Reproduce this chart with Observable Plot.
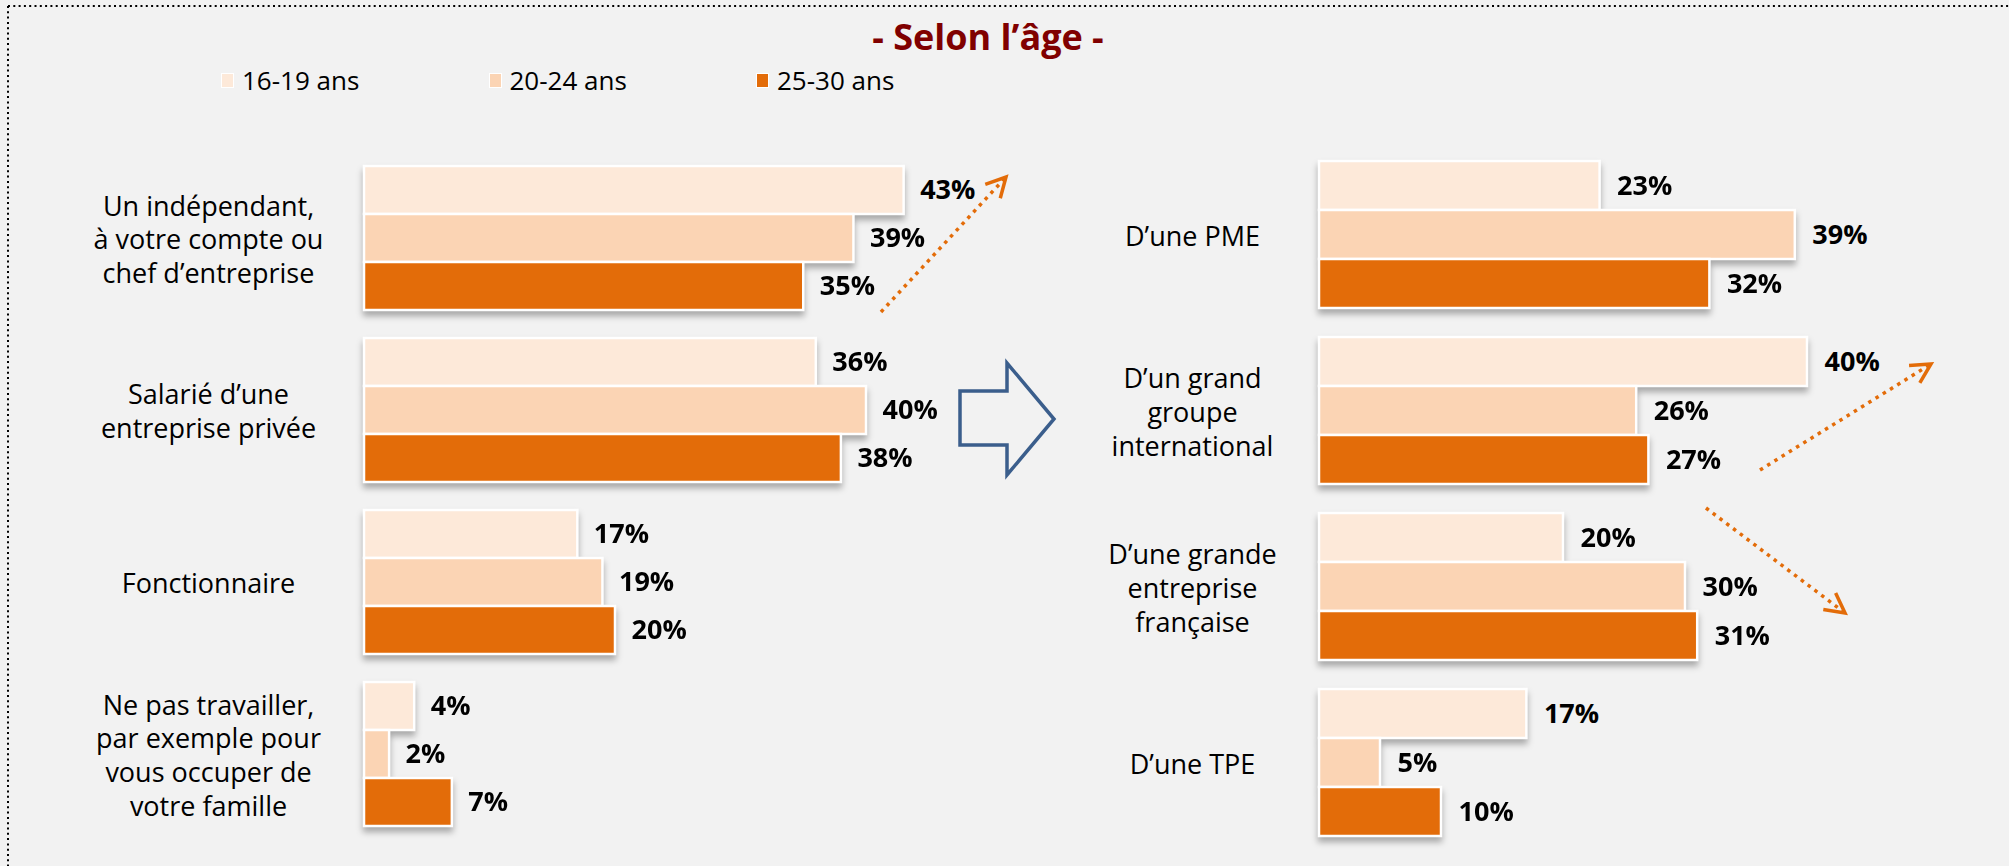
<!DOCTYPE html>
<html><head><meta charset="utf-8">
<script src="https://cdn.jsdelivr.net/npm/d3@7"></script>
<script src="https://cdn.jsdelivr.net/npm/@observablehq/plot@0.6"></script>
<style>
html,body{margin:0;padding:0;background:#F2F2F2;overflow:hidden;width:2009px;height:866px;}
#wrap{position:relative;width:2009px;height:866px;overflow:hidden;background:#F2F2F2;font-family:"Open Sans",sans-serif;}
#title{position:absolute;left:788px;width:400px;top:19px;text-align:center;font-size:36px;line-height:36px;font-weight:700;color:#800000;white-space:nowrap;}
#legend{position:absolute;left:221px;top:67px;display:flex;}
.item{width:267.5px;display:flex;align-items:center;font-size:26px;line-height:26px;color:#000;white-space:nowrap;}
.sw{width:13px;height:15px;box-sizing:border-box;border:1px solid #fff;margin-right:8px;}
.panel{position:absolute;top:0;}
.panel svg{display:block;}
.panel g[aria-label="bar"]{filter:drop-shadow(0px 5px 3px rgba(0,0,0,0.30));}
#deco{position:absolute;left:0;top:0;pointer-events:none;display:block;}
</style></head><body>
<div id="wrap">
  <div id="title"></div>
  <div id="legend"></div>
  <div class="panel" id="left" style="left:0px"></div>
  <div class="panel" id="right" style="left:1000px"></div>
  <svg id="deco" width="2009" height="866"></svg>
</div>
<script>
// ---- data ----
const title = "- Selon l’âge -";
const ages = ["16-19 ans", "20-24 ans", "25-30 ans"];
const ageColors = ["#FDE9D9", "#FBD4B4", "#E36C09"];

const leftCategories = [
  "Un indépendant,\nà votre compte ou\nchef d’entreprise",
  "Salarié d’une\nentreprise privée",
  "Fonctionnaire",
  "Ne pas travailler,\npar exemple pour\nvous occuper de\nvotre famille"
];
const leftValues16 = [43, 36, 17, 4];
const leftValues20 = [39, 40, 19, 2];
const leftValues25 = [35, 38, 20, 7];

const rightCategories = [
  "D’une PME",
  "D’un grand\ngroupe\ninternational",
  "D’une grande\nentreprise\nfrançaise",
  "D’une TPE"
];
const rightValues16 = [23, 40, 20, 17];
const rightValues20 = [39, 26, 30, 5];
const rightValues25 = [32, 27, 31, 10];

// ---- title & legend ----
document.getElementById("title").textContent = title;
const leg = document.getElementById("legend");
ages.forEach((a, i) => {
  const it = document.createElement("div"); it.className = "item";
  const sw = document.createElement("div"); sw.className = "sw"; sw.style.background = ageColors[i];
  const tx = document.createElement("span"); tx.textContent = a;
  it.appendChild(sw); it.appendChild(tx); leg.appendChild(it);
});

function rows(cats, v16, v20, v25) {
  const out = [];
  cats.forEach((c, i) => {
    [v16, v20, v25].forEach((vals, j) => out.push({cat: c, age: ages[j], value: vals[i]}));
  });
  return out;
}

function panel(cats, data, opts) {
  return Plot.plot({
    width: opts.width,
    height: 866,
    marginLeft: opts.marginLeft,
    marginRight: opts.marginRight,
    marginTop: opts.marginTop,
    marginBottom: opts.marginBottom,
    style: {background: "transparent", overflow: "visible", fontFamily: "Open Sans", color: "#000"},
    x: {domain: [0, 50], axis: null},
    y: {domain: ages, padding: 0, axis: null},
    fy: {domain: cats, paddingInner: opts.padding, paddingOuter: 0, axis: null},
    color: {domain: ages, range: ageColors},
    marks: [
      Plot.barX(data, {fy: "cat", y: "age", x: "value", fill: "age", stroke: "#fff", strokeWidth: 2.5}),
      Plot.text(data, {fy: "cat", y: "age", x: "value", text: d => d.value + "%", dx: opts.valueDx,
        textAnchor: "start", fontSize: 27, fontWeight: 700, fill: "#000"}),
      Plot.text(cats, {fy: d => d, text: d => d, frameAnchor: "left", dx: opts.labelDx,
        textAnchor: "middle", fontSize: 27, lineHeight: 1.25, fill: "#000"})
    ]
  });
}

document.getElementById("left").appendChild(panel(leftCategories,
  rows(leftCategories, leftValues16, leftValues20, leftValues25),
  {width: 1000, marginLeft: 364, marginRight: 1000 - 364 - 627.5, marginTop: 165, marginBottom: 40,
   padding: 0.164, valueDx: 16, labelDx: -156}));

document.getElementById("right").appendChild(panel(rightCategories,
  rows(rightCategories, rightValues16, rightValues20, rightValues25),
  {width: 1009, marginLeft: 319, marginRight: 1009 - 319 - 610, marginTop: 160, marginBottom: 28,
   padding: 0.162, valueDx: 17, labelDx: -127}));

// ---- decorations (frame, block arrow, trend arrows) ----
const deco = d3.select("#deco");
deco.append("line").attr("x1", 8).attr("y1", 6).attr("x2", 2009).attr("y2", 6)
  .attr("stroke", "#000").attr("stroke-width", 2).attr("stroke-dasharray", "2 3.3");
deco.append("line").attr("x1", 8).attr("y1", 6).attr("x2", 8).attr("y2", 866)
  .attr("stroke", "#000").attr("stroke-width", 2).attr("stroke-dasharray", "2 3.3");
deco.append("polygon")
  .attr("points", "960,391 1007,391 1007,363 1054,419 1007,475 1007,445 960,445")
  .attr("fill", "none").attr("stroke", "#3B5E8C").attr("stroke-width", 3.5).attr("stroke-linejoin", "miter");
function trend(x1, y1, x2, y2) {
  const ang = Math.atan2(y2 - y1, x2 - x1), L = 22, a = Math.PI / 6.5;
  deco.append("line").attr("x1", x1).attr("y1", y1)
    .attr("x2", x2 - 3 * Math.cos(ang)).attr("y2", y2 - 3 * Math.sin(ang))
    .attr("stroke", "#E36C09").attr("stroke-width", 3.5).attr("stroke-dasharray", "3.5 5");
  const p1 = [x2 - L * Math.cos(ang - a), y2 - L * Math.sin(ang - a)];
  const p2 = [x2 - L * Math.cos(ang + a), y2 - L * Math.sin(ang + a)];
  deco.append("polyline").attr("points", `${p1} ${x2},${y2} ${p2}`)
    .attr("fill", "none").attr("stroke", "#E36C09").attr("stroke-width", 3.5).attr("stroke-linejoin", "miter");
}
trend(881, 312, 1006, 177);
trend(1760, 470, 1931, 364);
trend(1706, 508, 1845, 613);
</script>
</body></html>
